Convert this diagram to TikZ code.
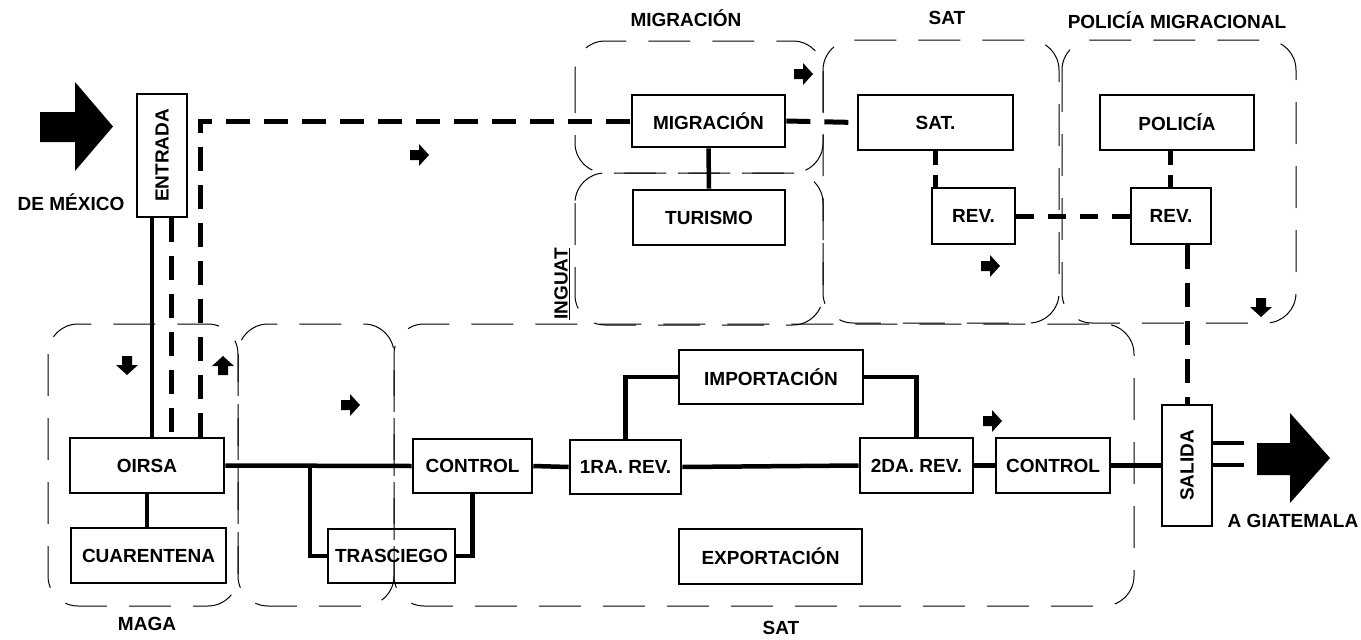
\documentclass[tikz,border=0pt]{standalone}
\usepackage{fontspec}
\setmainfont{Liberation Sans}
\begin{document}
\begin{tikzpicture}[x=1pt,y=-1pt,
  box/.style={draw, line width=2.6pt, inner sep=0pt, font=\fontsize{19}{21}\selectfont\bfseries},
  conn/.style={line width=4.5pt},
  dconn/.style={line width=5pt, dash pattern=on 24pt off 14pt},
  region/.style={line width=1pt, dash pattern=on 42pt off 22pt, rounded corners=30pt},
  lbl/.style={font=\fontsize{19}{21}\selectfont\bfseries, inner sep=0pt},
  smallarr/.pic={\fill (-9,-5) -- (0,-5) -- (0,-11) -- (10,0) -- (0,11) -- (0,5) -- (-9,5) -- cycle;}
]
\useasboundingbox (0,0) rectangle (1361,640);

% regions
\draw[region] (48,324) rectangle (238,606);
\draw[region] (238,324) rectangle (394,606);
\draw[region] (394,324) rectangle (1134,606);
\draw[region] (575,41) rectangle (823,173);
\draw[region] (575,173) rectangle (823,325);
\draw[region] (823,40) rectangle (1059,323);
\draw[region] (1062,40) rectangle (1296,323);

% region labels
\node[lbl] (lmig) at (686,18) {MIGRACIÓN};
\node[lbl] (lsat) at (947,18) {SAT};
\node[lbl] (lpol) at (1177,20) {POLICÍA MIGRACIONAL};
\node[lbl] (lmaga) at (147,624) {MAGA};
\node[lbl] (lsat2) at (781,628) {SAT};
\node[lbl, rotate=90] (lingu) at (562,284) {\underline{INGUAT}};
\node[lbl] (lmex) at (71,202) {DE MÉXICO};
\node[lbl] (lgua) at (1293,521) {A GIATEMALA};

% boxes
\node[box, minimum width=50, minimum height=123] (entrada) at (162,155.5) {\rotatebox{90}{ENTRADA}};
\node[box, minimum width=154, minimum height=55] (oirsa) at (147,465.5) {OIRSA};
\node[box, minimum width=155, minimum height=55] (cuar) at (148.5,555.5) {CUARENTENA};
\node[box, minimum width=127, minimum height=54] (tras) at (391.5,556) {TRASCIEGO};
\node[box, minimum width=119, minimum height=54] (ctrl1) at (472.5,466) {CONTROL};
\node[box, minimum width=111, minimum height=54] (rev1a) at (625.5,467) {1RA. REV.};
\node[box, minimum width=184, minimum height=54] (imp) at (771,377) {IMPORTACIÓN};
\node[box, minimum width=183, minimum height=55] (exp) at (770.5,556.5) {EXPORTACIÓN};
\node[box, minimum width=113, minimum height=55] (rev2a) at (916.5,465.5) {2DA. REV.};
\node[box, minimum width=114, minimum height=55] (ctrl2) at (1053,465.5) {CONTROL};
\node[box, minimum width=50, minimum height=121] (salida) at (1187,465.5) {\rotatebox{90}{SALIDA}};
\node[box, minimum width=153, minimum height=52] (migr) at (708.5,121) {MIGRACIÓN};
\node[box, minimum width=152, minimum height=55] (tur) at (709,217.5) {TURISMO};
\node[box, minimum width=155, minimum height=55] (sat) at (935.5,122.5) {SAT.};
\node[box, minimum width=83, minimum height=56] (revs) at (973.5,216) {REV.};
\node[box, minimum width=154, minimum height=55] (pol) at (1177,122.5) {POLICÍA};
\node[box, minimum width=80, minimum height=56] (revp) at (1171,216) {REV.};

% solid connectors
\draw[conn] (entrada.south -| 152,0) -- (oirsa.north -| 152,0);
\draw[conn] (oirsa.south) -- (cuar.north -| oirsa.south);
\draw[conn] (oirsa.east) -- (ctrl1.west);
\draw[conn] (310,466) |- (tras.west);
\draw[conn] (ctrl1.south) |- (tras.east);
\draw[conn] (ctrl1.east) -- (rev1a.west);
\draw[conn] (rev1a.north) |- (imp.west);
\draw[conn] (imp.east) -| (rev2a.north);
\draw[conn] (rev1a.east) -- (rev2a.west);
\draw[conn] (rev2a.east) -- (ctrl2.west);
\draw[conn] (ctrl2.east) -- (salida.west |- ctrl2.east);
\draw[conn] (migr.south) -- (tur.north);
\coordinate (sa) at (1244,443);
\coordinate (sb) at (1244,465);
\draw[conn] (salida.east |- sa) -- (sa);
\draw[conn] (salida.east |- sb) -- (sb);

% dashed connectors
\draw[dconn] (entrada.south -| 171,0) -- (oirsa.north -| 171,0);
\draw[dconn] (oirsa.north -| 200,0) |- (migr.west);
\draw[dconn] (migr.east) -- (sat.west);
\draw[dconn, dash pattern=on 14pt off 10pt] (sat.south) -- (revs.north -| sat.south);
\draw[dconn, dash pattern=on 14pt off 10pt] (pol.south -| 1170,0) -- (revp.north -| 1170,0);
\draw[dconn, dash pattern=on 18pt off 14pt] (revs.east) -- (revp.west);
\draw[dconn] (revp.south -| salida.north) -- (salida.north);

% big arrows
\fill (40,112) -- (75,112) -- (75,82) -- (113,126.5) -- (75,171) -- (75,142) -- (40,142) -- cycle;
\fill (1257,443) -- (1290,443) -- (1290,413) -- (1330,458) -- (1290,503) -- (1290,475) -- (1257,475) -- cycle;

% small arrows
\pic at (419,155) {smallarr};
\pic at (803,74) {smallarr};
\pic at (990,266) {smallarr};
\pic at (992,421) {smallarr};
\pic at (350,405) {smallarr};
\pic[rotate=-90] at (127,365) {smallarr};
\pic[rotate=-90] at (1261,307) {smallarr};
\pic[rotate=90] at (223,366) {smallarr};
\end{tikzpicture}
\end{document}
